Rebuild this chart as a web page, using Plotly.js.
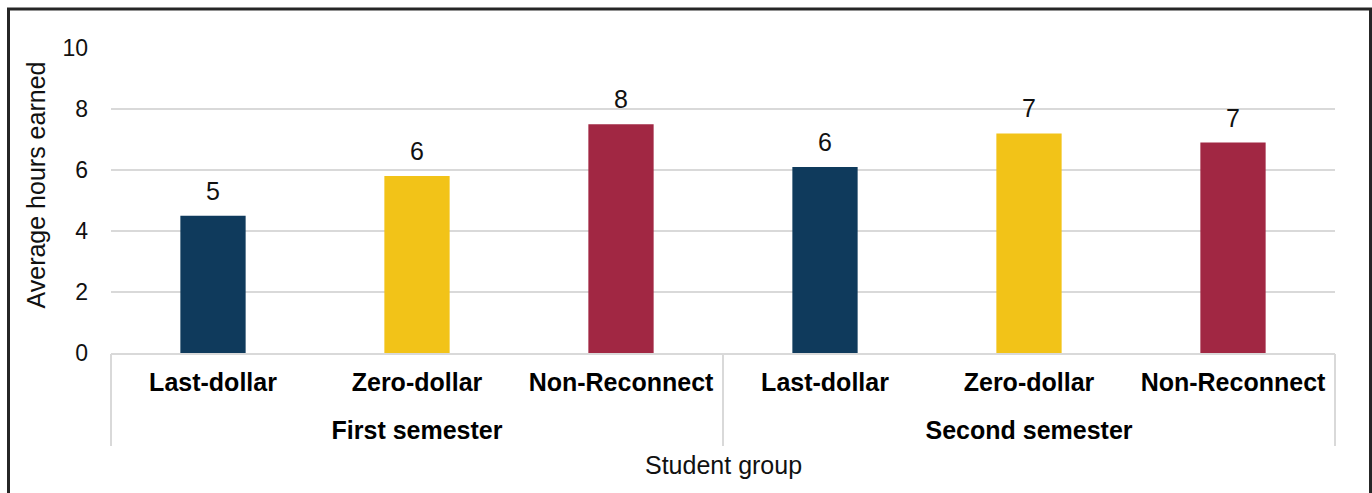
<!DOCTYPE html>
<html>
<head>
<meta charset="utf-8">
<script src="https://cdn.plot.ly/plotly-3.0.1.min.js"></script>
<style>
  html, body { margin: 0; padding: 0; background: #ffffff; }
  #chart { width: 1372px; height: 493px; }
</style>
</head>
<body>
<div id="chart"></div>
<script>
// ---- data ----
var semesters = ['First semester', 'Second semester'];
var studentGroups = ['Last-dollar', 'Zero-dollar', 'Non-Reconnect'];
var firstSemesterHours = [4.5, 5.8, 7.5];
var secondSemesterHours = [6.1, 7.2, 6.9];
var yTickValues = [0, 2, 4, 6, 8, 10];

// ---- styles ----
var groupColors = ['#0f3a5c', '#f2c318', '#a12743'];
var FONT = '"Liberation Sans", Arial, sans-serif';
var GRID = '#d9d9d9';

// build positions / labels from the named arrays
var series = [firstSemesterHours, secondSemesterHours];
var xIdx = [], yVals = [], colors = [], innerText = [], barText = [];
var groupCenters = [], groupBounds = [-0.5];
var k = 0;
semesters.forEach(function (sem, si) {
  var start = k;
  studentGroups.forEach(function (g, gi) {
    xIdx.push(k);
    yVals.push(series[si][gi]);
    colors.push(groupColors[gi]);
    innerText.push(g);
    barText.push(String(Math.round(series[si][gi])));
    k++;
  });
  groupCenters.push((start + k - 1) / 2);
  groupBounds.push(k - 0.5);
});
var xRange = [-0.5, k - 0.5];

var bars = {
  type: 'bar',
  x: xIdx,
  y: yVals,
  marker: { color: colors, line: { width: 0 } },
  hoverinfo: 'y',
  showlegend: false
};

var barLabels = {
  type: 'scatter',
  mode: 'markers+text',
  x: xIdx,
  y: yVals,
  text: barText,
  textposition: 'top center',
  textfont: { family: FONT, size: 25, color: '#111111' },
  marker: { size: 14, opacity: 0 },
  hoverinfo: 'skip',
  showlegend: false,
  cliponaxis: false
};

// empty helper traces so the overlay axes exist
var semAxisTrace = { type: 'scatter', x: [], y: [], xaxis: 'x2', yaxis: 'y', showlegend: false, hoverinfo: 'skip' };
var divAxisTrace = { type: 'scatter', x: [], y: [], xaxis: 'x3', yaxis: 'y', showlegend: false, hoverinfo: 'skip' };

var boldTick = { family: FONT, size: 25, color: '#000000', weight: 'bold' };

var layout = {
  width: 1372,
  height: 493,
  margin: { l: 111, r: 37, t: 48, b: 140 },
  paper_bgcolor: '#ffffff',
  plot_bgcolor: '#ffffff',
  font: { family: FONT, color: '#111111' },
  bargap: 0.68,
  showlegend: false,
  xaxis: {
    range: xRange,
    tickvals: xIdx,
    ticktext: innerText,
    showline: true,
    linecolor: GRID,
    linewidth: 1.5,
    showgrid: false,
    zeroline: false,
    ticks: '',
    ticklabelstandoff: 6,
    tickfont: boldTick,
    automargin: false,
    title: { text: '' }
  },
  xaxis2: {
    overlaying: 'x',
    anchor: 'y',
    side: 'bottom',
    range: xRange,
    tickvals: groupCenters,
    ticktext: semesters,
    showline: false,
    showgrid: false,
    zeroline: false,
    ticks: '',
    ticklabelstandoff: 60,
    tickfont: boldTick
  },
  xaxis3: {
    overlaying: 'x',
    anchor: 'y',
    side: 'bottom',
    range: xRange,
    tickvals: groupBounds,
    showticklabels: false,
    showline: false,
    showgrid: false,
    zeroline: false,
    ticks: 'outside',
    ticklen: 92,
    tickwidth: 1.5,
    tickcolor: GRID
  },
  yaxis: {
    range: [0, 10],
    tickvals: yTickValues,
    ticktext: yTickValues.map(String),
    showgrid: true,
    gridcolor: GRID,
    gridwidth: 1.5,
    zeroline: false,
    showline: false,
    ticks: '',
    ticklabelstandoff: 22,
    tickfont: { family: FONT, size: 23, color: '#111111' }
  },
  annotations: [{
    text: 'Average hours earned',
    xref: 'paper', yref: 'paper',
    x: (36 - 111) / 1224, y: (353 - 185.5) / 305,
    xanchor: 'center', yanchor: 'middle',
    textangle: -90,
    showarrow: false,
    font: { family: FONT, size: 25, color: '#111111' }
  }, {
    text: 'Student group',
    xref: 'paper', yref: 'paper',
    x: 0.5, y: (353 - 465) / 305,
    xanchor: 'center', yanchor: 'middle',
    showarrow: false,
    font: { family: FONT, size: 25, color: '#111111' }
  }],
  shapes: [{
    type: 'rect',
    xref: 'paper', yref: 'paper',
    x0: (8.5 - 111) / 1224, x1: (1370.5 - 111) / 1224,
    y0: (353 - 9) / 305, y1: (353 - 520) / 305,
    line: { color: '#262626', width: 3 },
    fillcolor: 'rgba(0,0,0,0)',
    layer: 'above'
  }]
};

Plotly.newPlot('chart', [bars, barLabels, semAxisTrace, divAxisTrace], layout, { displayModeBar: false, staticPlot: true });
</script>
</body>
</html>
